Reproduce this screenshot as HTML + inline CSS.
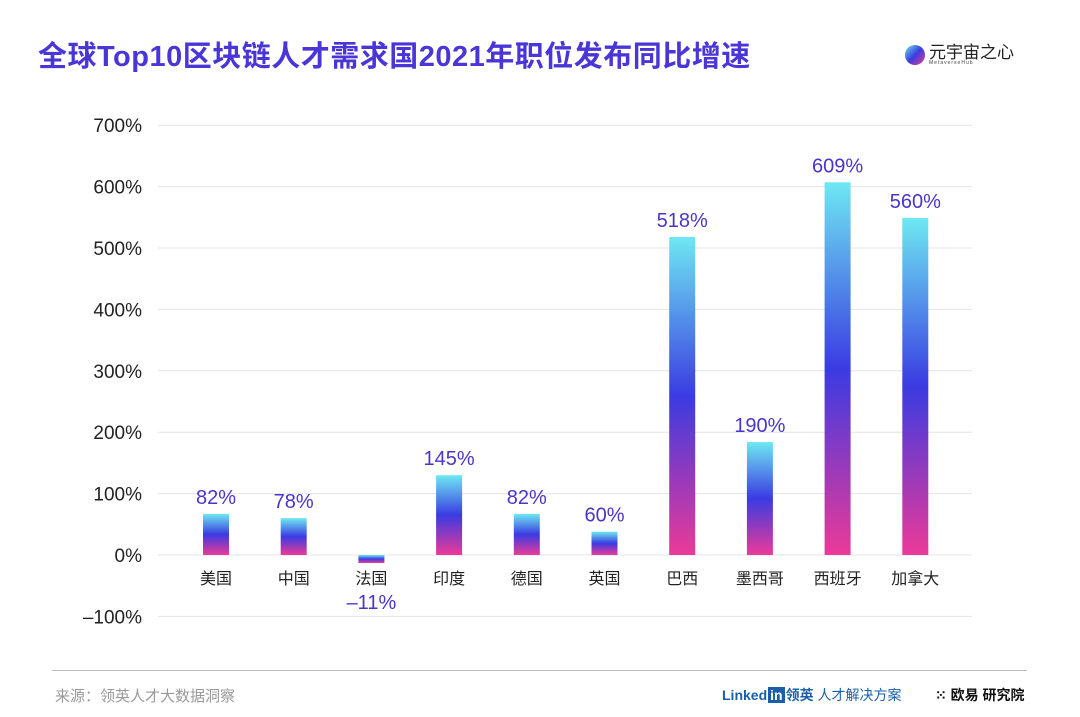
<!DOCTYPE html>
<html><head><meta charset="utf-8"><style>
body{margin:0;width:1080px;height:717px;background:#fff;overflow:hidden;font-family:"Liberation Sans","Noto Sans CJK SC",sans-serif;position:relative}
.t{position:absolute;left:38px;top:33px;font-size:29px;font-weight:bold;color:#4a35d6;letter-spacing:0.5px}
</style></head><body>
<div class="t">全球Top10区块链人才需求国2021年职位发布同比增速</div>
<div style="position:absolute;left:905px;top:44px;display:flex;align-items:center">
<div style="width:20px;height:20px;border-radius:50%;background:linear-gradient(135deg,#6de6f0,#3a3de0,#e83a9a)"></div>
<div style="margin-left:4px;line-height:1"><div style="font-size:17px;color:#222">元宇宙之心</div><div style="font-size:5px;color:#444;letter-spacing:1px">MetaverseHub</div></div></div>
<svg id="c" width="1080" height="717" style="position:absolute;left:0;top:0">
<defs><linearGradient id="g" x1="0" y1="0" x2="0" y2="1"><stop offset="0" stop-color="#6ee8f2"/><stop offset="0.5" stop-color="#3a3be2"/><stop offset="1" stop-color="#ec3a98"/></linearGradient></defs>
</svg>
<div style="position:absolute;left:52px;top:670px;width:975px;height:1px;background:#bbb"></div>
<div style="position:absolute;left:55px;top:685px;font-size:15px;color:#999">来源：领英人才大数据洞察</div>
<div style="position:absolute;left:722px;top:685px;font-size:14px;color:#1a5fa8;font-weight:bold">Linked<span style="background:#1a5fa8;color:#fff;padding:0 2px;margin:0 1px">in</span>领英 <span style="font-weight:normal">人才解决方案</span></div>
<div style="position:absolute;left:935px;top:685px;font-size:14px;color:#111;font-weight:bold">⁙ 欧易 研究院</div>
<script>
const categories=["美国","中国","法国","印度","德国","英国","巴西","墨西哥","西班牙","加拿大"];
const values=[67,60,-13,130,67,38,518,184,607,549];
const valueLabels=["82%","78%","-11%","145%","82%","60%","518%","190%","609%","560%"];
const ticks=[-100,0,100,200,300,400,500,600,700];
const svg=document.getElementById('c');const NS="http://www.w3.org/2000/svg";
const y=v=>555-v*0.614;const x=i=>216+i*77.7;
function el(t,a){const e=document.createElementNS(NS,t);for(const k in a)e.setAttribute(k,a[k]);svg.appendChild(e);return e;}
ticks.forEach(t=>{
 const l=el('line',{x1:158,x2:972,y1:y(t),y2:y(t),stroke:'#e4e4e4','stroke-width':1});
 
 
 const tx=el('text',{x:142,y:y(t)+7,'text-anchor':'end','font-size':19,fill:'#222'});
 tx.textContent=(t<0?'–'+(-t):t)+'%';
 
 
});
categories.forEach((c,i)=>{
 const v=values[i];const top=Math.min(y(v),y(0));const h=Math.abs(y(v)-y(0));
 const r=el('rect',{x:x(i)-13,y:top,width:26,height:h,fill:'url(#g)'});
 
 
 const cl=el('text',{x:x(i),y:584,'text-anchor':'middle','font-size':16,fill:'#222'});
 cl.textContent=c;
 
 
 const vl=el('text',{x:x(i),y:v<0?609:y(v)-10,'text-anchor':'middle','font-size':20,fill:'#4a35c8'});
 vl.textContent=valueLabels[i].replace('-','–');
 
 
});
</script>
</body></html>
